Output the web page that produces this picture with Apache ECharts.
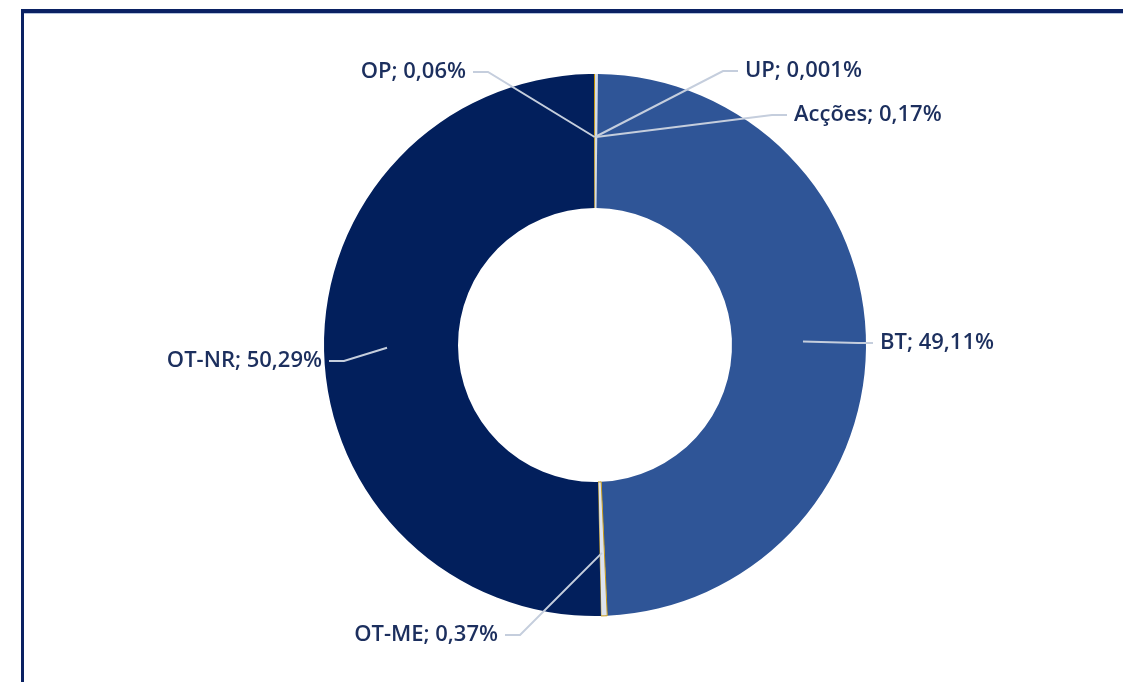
<!DOCTYPE html>
<html>
<head>
<meta charset="utf-8">
<script src="https://cdn.jsdelivr.net/npm/echarts@6/dist/echarts.min.js"></script>
<style>
  body { margin: 0; background: #fff; }
  #main { position: absolute; left: 0; top: 0; width: 1123px; height: 682px; }
  #frame {
    position: absolute; left: 21px; top: 9px; width: 1200px; height: 671px;
    border-top: 4px solid #0a2163; border-left: 3px solid #0a2163;
    border-bottom: 1px solid #e6e6e6;
    box-shadow: inset 0 1px 0 #b4c3de;
    pointer-events: none;
  }
</style>
</head>
<body>
<div id="main"></div>
<div id="frame"></div>
<script>
// categories and shares (%), in the order they sit clockwise from 12 o'clock
var names = ["UP", "Acções", "BT", "OT-ME", "OT-NR", "OP"];
var shares = [0.001, 0.17, 49.11, 0.37, 50.29, 0.06];
var colors = ["#9dc3e6", "#d6dce4", "#2f5597", "#dde3ee", "#021f5c", "#bf9000"];

// where each label sits (layout only)
var labelSpot = {
  "UP": { x: 745, y: 71, side: "right" },
  "Acções": { x: 794, y: 115, side: "right" },
  "BT": { x: 880, y: 343, side: "right" },
  "OT-ME": { x: 498, y: 635, side: "left" },
  "OT-NR": { x: 322, y: 361, side: "left" },
  "OP": { x: 466, y: 72, side: "left" }
};

var cx = 595, cy = 345, r0 = 137, r1 = 271;

var chartDom = document.getElementById("main");
var myChart = echarts.init(chartDom);

var total = shares.reduce(function (a, b) { return a + b; }, 0);

// middle of a slice, half way through the ring
function midPoint(idx) {
  var before = 0;
  for (var i = 0; i < idx; i++) before += shares[i];
  var frac = (before + shares[idx] / 2) / total;
  var a = (90 - 360 * frac) * Math.PI / 180;
  var rm = (r0 + r1) / 2 + 4;
  return [cx + rm * Math.cos(a), cy - rm * Math.sin(a)];
}

// leader lines: slice middle -> short elbow -> label
var leaders = names.map(function (n, i) {
  var s = labelSpot[n];
  var dir = s.side === "right" ? -1 : 1;
  return {
    type: "polyline",
    z: 100,
    silent: true,
    shape: { points: [midPoint(i), [s.x + dir * 22, s.y], [s.x + dir * 7, s.y]] },
    style: { stroke: "#c5cedd", lineWidth: 2, fill: null }
  };
});

var option = {
  animation: false,
  graphic: leaders,
  series: [
    {
      type: "pie",
      center: [cx, cy],
      radius: [r0, r1],
      startAngle: 90,
      clockwise: true,
      avoidLabelOverlap: false,
      data: names.map(function (n, i) {
        var item = { name: n, value: shares[i], itemStyle: { color: colors[i] } };
        if (n === "OT-ME") {
          item.itemStyle.borderColor = "#c59a1b";
          item.itemStyle.borderWidth = 1;
        }
        return item;
      }),
      label: {
        show: true,
        position: "outside",
        fontFamily: "Open Sans",
        fontWeight: 600,
        fontSize: 22,
        color: "#1c2f5e",
        formatter: function (p) {
          return p.name + "; " + String(p.value).replace(".", ",") + "%";
        }
      },
      labelLine: { show: false },
      labelLayout: function (params) {
        var s = labelSpot[names[params.dataIndex]];
        return {
          x: s.x,
          y: s.y,
          align: s.side === "right" ? "left" : "right",
          verticalAlign: "middle"
        };
      },
      emphasis: { disabled: true }
    }
  ]
};

option && myChart.setOption(option);
</script>
</body>
</html>
